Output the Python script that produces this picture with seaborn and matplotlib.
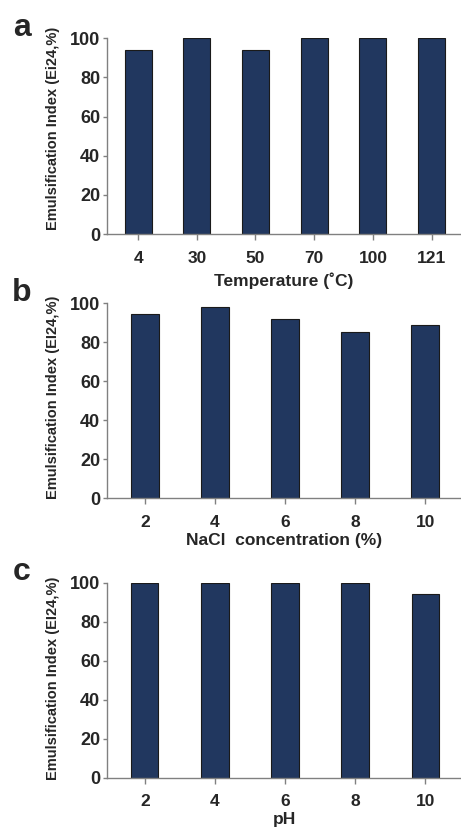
import numpy as np
import pandas as pd
import seaborn as sns
import matplotlib.pyplot as plt

# panel a: temperature
temp_labels = ["4", "30", "50", "70", "100", "121"]
temp_values = [94, 100, 94, 100, 100, 100]

# panel b: NaCl
nacl_labels = ["2", "4", "6", "8", "10"]
nacl_values = [94.5, 97.9, 91.8, 85.4, 88.9]

# panel c: pH
ph_labels = ["2", "4", "6", "8", "10"]
ph_values = [100, 100, 100, 100, 94.4]

sns.set_theme(style="white")
plt.rcParams['font.family'] = ['Liberation Sans', 'DejaVu Sans']
plt.rcParams['font.weight'] = 'bold'

bar_color = "#21375f"
axis_color = "#808080"

fig = plt.figure(figsize=(4.61, 8.33), dpi=100)

panels = [
    (temp_labels, temp_values, "Temperature (\u02daC)", "Emulsification Index (Ei24,%)", "a",
     [0.232, 0.719, 0.768, 0.235], 0.46, (-0.53, 5.5), 5, 0.538),
    (nacl_labels, nacl_values, "NaCl  concentration (%)", "Emulsification Index (EI24,%)", "b",
     [0.232, 0.402, 0.768, 0.234], 0.40, (-0.54, 4.51), 2.5, 0.517),
    (ph_labels, ph_values, "pH", "Emulsification Index (EI24,%)", "c",
     [0.232, 0.0665, 0.768, 0.234], 0.39, (-0.54, 4.51), 2, 0.509),
]

for labels, values, xlab, ylab, letter, rect, w, xlim, lp, ly in panels:
    ax = fig.add_axes(rect)
    df = pd.DataFrame({"x": labels, "y": values})
    sns.barplot(data=df, x="x", y="y", order=labels, color=bar_color, saturation=1,
                width=w, edgecolor="#1a1a1a", linewidth=0.8, ax=ax)
    ax.set_ylim(0, 100)
    ax.set_xlim(*xlim)
    ax.set_yticks([0, 20, 40, 60, 80, 100])
    for s in ["top", "right"]:
        ax.spines[s].set_visible(False)
    for s in ["left", "bottom"]:
        ax.spines[s].set_color(axis_color)
        ax.spines[s].set_linewidth(1.0)
    ax.tick_params(axis="y", direction="out", length=3, width=1, color=axis_color,
                   labelsize=13, pad=2, left=True)
    ax.tick_params(axis="x", direction="out", length=4, width=1, color=axis_color,
                   labelsize=12.5, pad=8, bottom=True)
    for t in ax.get_xticklabels() + ax.get_yticklabels():
        t.set_fontweight("bold")
    ax.set_xlabel(xlab, fontsize=12.5, fontweight="bold", labelpad=lp)
    ax.set_ylabel(ylab, fontsize=10.5, fontweight="bold")
    ax.yaxis.set_label_coords(-0.133, ly)
    ax.text(-0.24, 1.13, letter, transform=ax.transAxes, fontsize=23,
            fontweight="bold", ha="center", va="top")

fig.savefig("out.png", dpi=100)
